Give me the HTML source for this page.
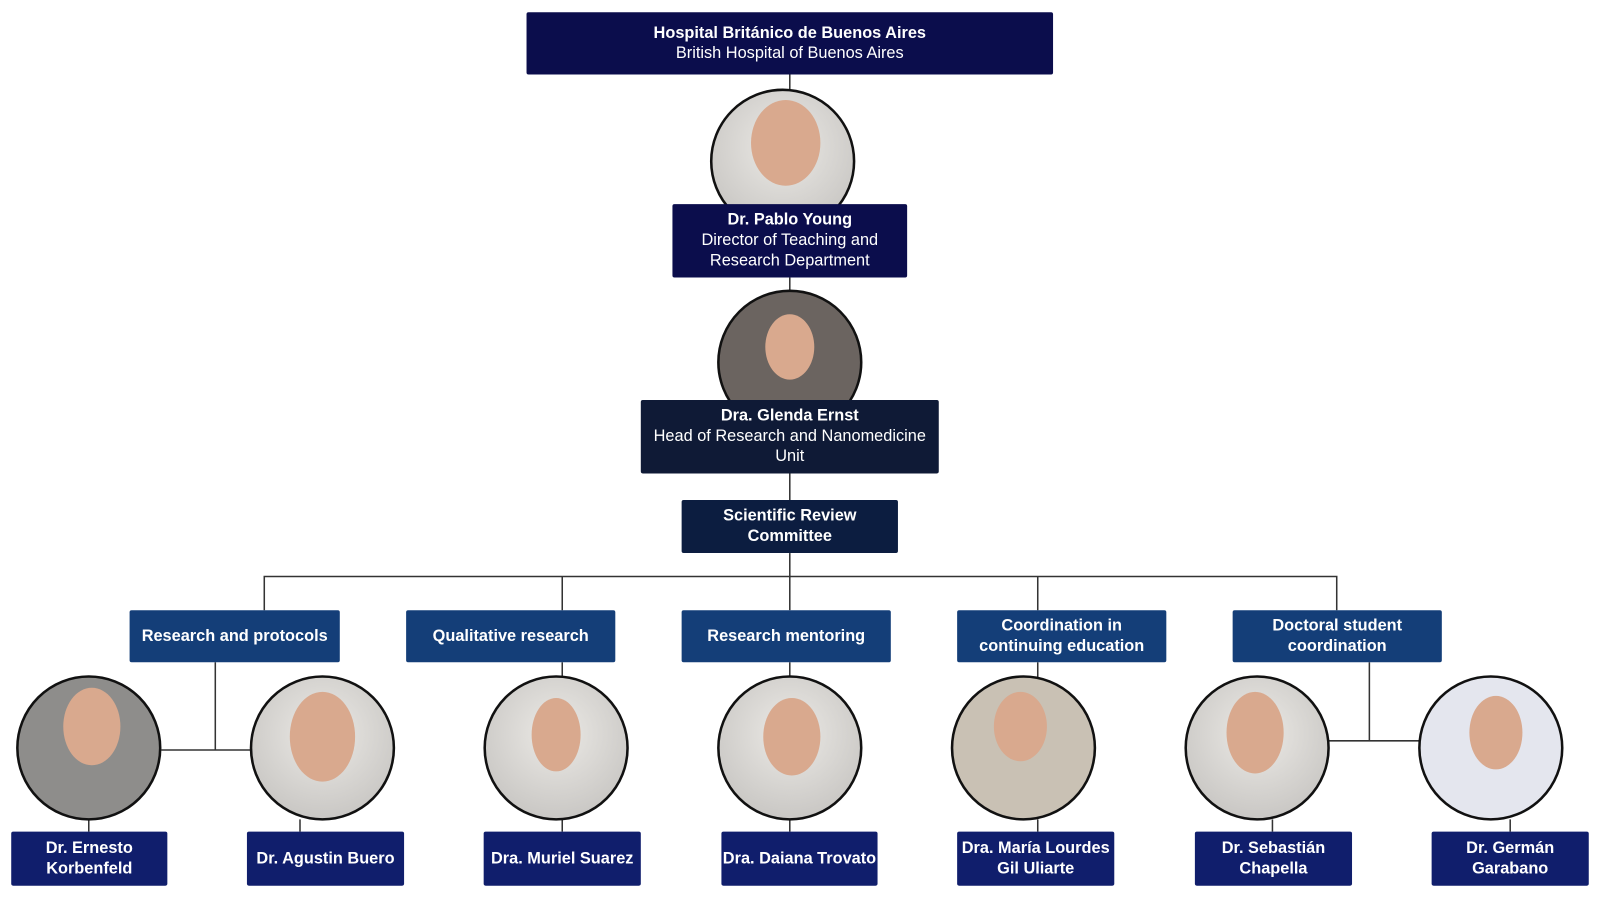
<!DOCTYPE html>
<html><head><meta charset="utf-8"><style>
body{margin:0;width:1600px;height:900px;background:#fff;overflow:hidden;font-family:"Liberation Sans",sans-serif}
#w{position:absolute;left:0;top:0;width:1568px;height:882px;transform:scale(1.0204);transform-origin:0 0}
.b{position:absolute;color:#fff;display:flex;flex-direction:column;justify-content:center;align-items:center;text-align:center;font-size:16px;line-height:20px;box-sizing:border-box;border-radius:2px}
.b b{font-weight:bold}
.n{background:#0b0d4c}.g{background:#0f1a36}.s{background:#143e78;font-weight:bold}.p{background:#101e6c;font-weight:bold;font-size:16px}
svg{position:absolute;left:0;top:0}
</style></head><body><div id="w">
<svg width="1568" height="882">
<g stroke="#333" stroke-width="1.5" fill="none">
<line x1="774" y1="73" x2="774" y2="92"/><line x1="774" y1="272" x2="774" y2="288"/>
<line x1="774" y1="464" x2="774" y2="490"/><line x1="774" y1="542" x2="774" y2="598"/>
<path d="M259 598V565H1310V598M551 565V598M1017 565V598"/>
<path d="M211 649V735M158 735H245M1342 649V726M1302 726H1392"/>
<path d="M551 649V665M774 649V665M1017 649V665"/>
<path d="M87 803V815M294 803V815M551 803V815M774 803V815M1017 803V815M1247 803V815M1480 803V815"/>
</g>
<defs><radialGradient id="bg" cx="50%" cy="40%" r="60%"><stop offset="0" stop-color="#eceae6"/><stop offset="1" stop-color="#c9c7c4"/></radialGradient></defs>
<g stroke="#111" stroke-width="2.5">
<circle cx="767" cy="158" r="70" fill="url(#bg)"/>
<circle cx="774" cy="355" r="70" fill="#6b6460"/>
<circle cx="87" cy="733" r="70" fill="#8e8d8b"/>
<circle cx="316" cy="733" r="70" fill="url(#bg)"/>
<circle cx="545" cy="733" r="70" fill="url(#bg)"/>
<circle cx="774" cy="733" r="70" fill="url(#bg)"/>
<circle cx="1003" cy="733" r="70" fill="#c9c1b4"/>
<circle cx="1232" cy="733" r="70" fill="url(#bg)"/>
<circle cx="1461" cy="733" r="70" fill="#e4e6ee"/>
</g>
<g fill="#d9a98e">
<ellipse cx="770" cy="140" rx="34" ry="42"/><ellipse cx="774" cy="340" rx="24" ry="32"/>
<ellipse cx="90" cy="712" rx="28" ry="38"/><ellipse cx="316" cy="722" rx="32" ry="44"/>
<ellipse cx="545" cy="720" rx="24" ry="36"/><ellipse cx="776" cy="722" rx="28" ry="38"/>
<ellipse cx="1000" cy="712" rx="26" ry="34"/><ellipse cx="1230" cy="718" rx="28" ry="40"/>
<ellipse cx="1466" cy="718" rx="26" ry="36"/></g>
</svg>
<div class="b n" style="left:516px;top:12px;width:516px;height:61px"><b>Hospital Británico de Buenos Aires</b>British Hospital of Buenos Aires</div>
<div class="b n" style="left:659px;top:200px;width:230px;height:72px"><b>Dr. Pablo Young</b>Director of Teaching and<br>Research Department</div>
<div class="b g" style="left:628px;top:392px;width:292px;height:72px"><b>Dra. Glenda Ernst</b>Head of Research and Nanomedicine<br>Unit</div>
<div class="b g" style="left:668px;top:490px;width:212px;height:52px;background:#0c1d40;font-weight:bold">Scientific Review<br>Committee</div>
<div class="b s" style="left:127px;top:598px;width:206px;height:51px">Research and protocols</div>
<div class="b s" style="left:398px;top:598px;width:205px;height:51px">Qualitative research</div>
<div class="b s" style="left:668px;top:598px;width:205px;height:51px">Research mentoring</div>
<div class="b s" style="left:938px;top:598px;width:205px;height:51px">Coordination in<br>continuing education</div>
<div class="b s" style="left:1208px;top:598px;width:205px;height:51px">Doctoral student<br>coordination</div>
<div class="b p" style="left:11px;top:815px;width:153px;height:53px">Dr. Ernesto<br>Korbenfeld</div>
<div class="b p" style="left:242px;top:815px;width:154px;height:53px">Dr. Agustin Buero</div>
<div class="b p" style="left:474px;top:815px;width:154px;height:53px">Dra. Muriel Suarez</div>
<div class="b p" style="left:707px;top:815px;width:153px;height:53px">Dra. Daiana Trovato</div>
<div class="b p" style="left:938px;top:815px;width:154px;height:53px">Dra. María Lourdes<br>Gil Uliarte</div>
<div class="b p" style="left:1171px;top:815px;width:154px;height:53px">Dr. Sebastián<br>Chapella</div>
<div class="b p" style="left:1403px;top:815px;width:154px;height:53px">Dr. Germán<br>Garabano</div>
</div></body></html>
